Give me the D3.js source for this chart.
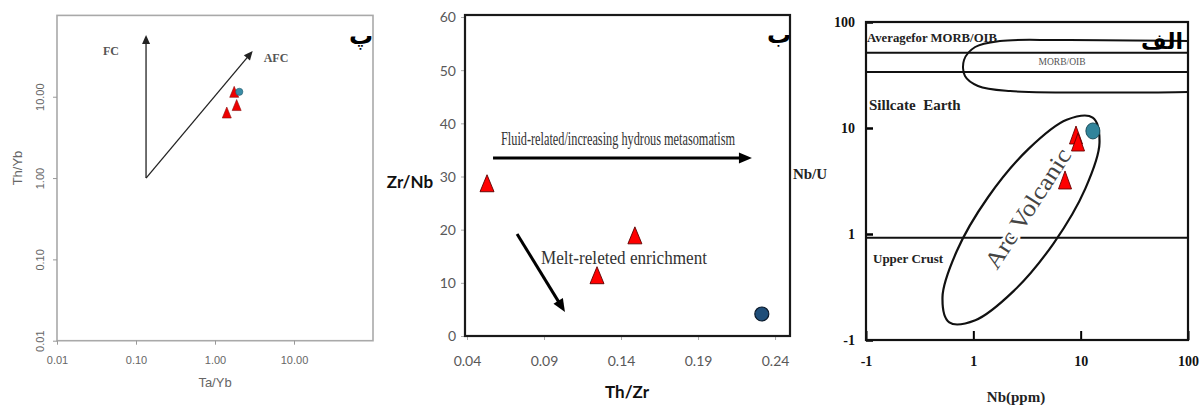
<!DOCTYPE html>
<html><head><meta charset="utf-8">
<script src="https://cdn.jsdelivr.net/npm/d3@7"></script>
<style>
html,body{margin:0;padding:0;background:#fff;}
svg{display:block;}
</style></head>
<body>
<svg id="chart" width="1202" height="405"></svg>
<script>
// ================= DATA =================
// Panel "پ" : Th/Yb vs Ta/Yb (log-log)
const p1TickValues = [0.01, 0.1, 1, 10];
const p1TickLabels = ["0.01", "0.10", "1.00", "10.00"];
const p1TriTaYb = [1.75, 1.88, 1.41];
const p1TriThYb = [10.9, 7.5, 6.07];
const p1DotTaYb = [2.03];
const p1DotThYb = [11.5];
const p1VectorNames = ["FC", "AFC"];
const p1VectorFromTaYb = [0.134, 0.134];
const p1VectorFromThYb = [1.0, 1.0];
const p1VectorToTaYb = [0.134, 3.0];
const p1VectorToThYb = [57.4, 36.5];

// Panel "ب" : Zr/Nb vs Th/Zr
const p2XTicks = [0.04, 0.09, 0.14, 0.19, 0.24];
const p2XLabels = ["0.04", "0.09", "0.14", "0.19", "0.24"];
const p2YTicks = [0, 10, 20, 30, 40, 50, 60];
const p2TriThZr = [0.053, 0.149, 0.1244];
const p2TriZrNb = [28.2, 18.4, 10.9];
const p2DotThZr = [0.2314];
const p2DotZrNb = [4.14];
const p2TrendNames = ["Fluid-related/increasing hydrous metasomatism", "Melt-releted enrichment"];
const p2TrendFromThZr = [0.0569, 0.0725];
const p2TrendFromZrNb = [33.5, 19.2];
const p2TrendToThZr = [0.225, 0.1036];
const p2TrendToZrNb = [33.5, 4.5];

// Panel "الف" : Nb/U vs Nb(ppm) (log-log)
const p3TickValues = [0.1, 1, 10, 100];
const p3TickLabels = ["-1", "1", "10", "100"];
const p3TriNb = [9.05, 9.45, 7.15];
const p3TriNbU = [8.05, 6.91, 3.03];
const p3DotNb = [13.0];
const p3DotNbU = [9.38];
const p3RefLinesNbU = [51.3, 33.8, 0.92];
const p3ArcNb  = [12.94, 14.98, 11.05, 5.62, 2.37, 1.043, 0.597, 0.516, 0.700, 1.375, 3.27, 7.41];
const p3ArcNbU = [12.53, 7.25, 2.68, 0.822, 0.289, 0.1537, 0.1466, 0.2533, 0.687, 2.234, 6.35, 11.95];
const p3MorbNb  = [100, 6.42, 1.77, 1.04, 0.819, 0.836, 1.105, 2.20, 100];
const p3MorbNbU = [66.2, 67.6, 66.2, 58.1, 43.8, 30.9, 24.9, 22.3, 21.9];

// ================= DRAWING =================
const svg = d3.select("#chart");
svg.append("rect").attr("width", 1202).attr("height", 405).attr("fill", "#fff");

const serif = "'Liberation Serif','Times New Roman',serif";
const sans = "'Liberation Sans',Arial,sans-serif";
const cal = "Lato,'Open Sans',sans-serif";
const arab = "'DejaVu Sans',sans-serif";

function triPath(w, h) { return `M0,${-2*h/3}L${w/2},${h/3}L${-w/2},${h/3}Z`; }
function arrow(g, x1, y1, x2, y2, width, headL, headW, color) {
  const dx = x2 - x1, dy = y2 - y1, len = Math.hypot(dx, dy), ux = dx/len, uy = dy/len;
  const bx = x2 - ux*headL, by = y2 - uy*headL;
  g.append("line").attr("x1", x1).attr("y1", y1).attr("x2", bx + ux).attr("y2", by + uy)
    .attr("stroke", color).attr("stroke-width", width);
  g.append("path").attr("d", `M${x2},${y2}L${bx - uy*headW/2},${by + ux*headW/2}L${bx + uy*headW/2},${by - ux*headW/2}Z`)
    .attr("fill", color);
}

// ---------- Panel 1 ----------
{
  const x = d3.scaleLog().domain([0.01, 100]).range([57, 373]);
  const y = d3.scaleLog().domain([0.01, 100]).range([340.7, 15.4]);
  const g = svg.append("g");
  g.append("rect").attr("x", 57).attr("y", 15.4).attr("width", 316).attr("height", 325.3)
    .attr("fill", "none").attr("stroke", "#a9a9a9").attr("stroke-width", 1.6);

  const ax = g.append("g").attr("transform", "translate(0,340.7)")
    .call(d3.axisBottom(x).tickValues(p1TickValues).tickFormat((d, i) => p1TickLabels[i]).tickSize(4));
  ax.select(".domain").remove();
  ax.selectAll("line").attr("stroke", "#999");
  ax.selectAll("text").attr("y", 19).attr("dy", "0.35em").attr("fill", "#666").style("font", `11px ${sans}`);

  const ay = g.append("g").attr("transform", "translate(57,0)")
    .call(d3.axisLeft(y).tickValues(p1TickValues).tickFormat((d, i) => p1TickLabels[i]).tickSize(4));
  ay.select(".domain").remove();
  ay.selectAll("line").attr("stroke", "#999");
  ay.selectAll("text").attr("x", 0).attr("dy", "0.35em").attr("text-anchor", "middle")
    .attr("transform", "translate(-17,0) rotate(-90)").attr("fill", "#666").style("font", `11px ${sans}`);

  g.append("text").attr("x", 215).attr("y", 382).attr("dy", "0.35em").attr("text-anchor", "middle")
    .attr("fill", "#666").style("font", `13px ${sans}`).text("Ta/Yb");
  g.append("text").attr("transform", "translate(17,168) rotate(-90)").attr("dy", "0.35em").attr("text-anchor", "middle")
    .attr("fill", "#666").style("font", `13px ${sans}`).text("Th/Yb");

  p1VectorNames.forEach((n, i) => {
    arrow(g, x(p1VectorFromTaYb[i]), y(p1VectorFromThYb[i]), x(p1VectorToTaYb[i]), y(p1VectorToThYb[i]), 1.3, 9, 8, "#222");
  });
  g.append("text").attr("x", 111).attr("y", 51).attr("dy", "0.35em").attr("text-anchor", "middle")
    .attr("fill", "#555").style("font", `bold 12px ${serif}`).text(p1VectorNames[0]);
  g.append("text").attr("x", 276).attr("y", 58).attr("dy", "0.35em").attr("text-anchor", "middle")
    .attr("fill", "#555").style("font", `bold 12px ${serif}`).text(p1VectorNames[1]);

  g.selectAll(".t1").data(p1TriTaYb).join("path")
    .attr("transform", (d, i) => `translate(${x(d)},${y(p1TriThYb[i])})`)
    .attr("d", triPath(9, 11)).attr("fill", "#ee0000").attr("stroke", "#8a1010").attr("stroke-width", 0.6);
  g.selectAll(".c1").data(p1DotTaYb).join("circle")
    .attr("cx", d => x(d)).attr("cy", (d, i) => y(p1DotThYb[i])).attr("r", 3.6)
    .attr("fill", "#3a8ca6").attr("stroke", "#255d6e").attr("stroke-width", 0.6);

  g.append("text").attr("x", 361).attr("y", 36).attr("dy", "0.35em").attr("text-anchor", "middle")
    .attr("fill", "#000").style("font", `bold 24px ${arab}`).text("پ");
}

// ---------- Panel 2 ----------
{
  const x = d3.scaleLinear().domain([0.0387, 0.2497]).range([465, 790]);
  const y = d3.scaleLinear().domain([0, 60]).range([336, 17]);
  const g = svg.append("g");

  const ax = g.append("g").attr("transform", "translate(0,336)")
    .call(d3.axisBottom(x).tickValues(p2XTicks).tickFormat((d, i) => p2XLabels[i]).tickSize(4));
  ax.select(".domain").remove();
  ax.selectAll("line").attr("stroke", "#aaa");
  ax.selectAll("text").attr("y", 25).attr("dy", "0.35em").attr("fill", "#595959").style("font", `14px ${cal}`);

  const ay = g.append("g").attr("transform", "translate(465,0)")
    .call(d3.axisLeft(y).tickValues(p2YTicks).tickSize(4));
  ay.select(".domain").remove();
  ay.selectAll("line").attr("stroke", "#aaa");
  ay.selectAll("text").attr("x", -9).attr("dy", "0.35em").attr("fill", "#595959").style("font", `14px ${cal}`);

  g.append("rect").attr("x", 465).attr("y", 15).attr("width", 325).attr("height", 321)
    .attr("fill", "none").attr("stroke", "#1a1a1a").attr("stroke-width", 2.2);

  g.append("text").attr("x", 410).attr("y", 182).attr("dy", "0.35em").attr("text-anchor", "middle")
    .attr("fill", "#111").style("font", `bold 17px ${cal}`).text("Zr/Nb");
  g.append("text").attr("x", 627).attr("y", 392).attr("dy", "0.35em").attr("text-anchor", "middle")
    .attr("fill", "#111").style("font", `bold 17px ${cal}`).text("Th/Zr");

  p2TrendNames.forEach((n, i) => {
    arrow(g, x(p2TrendFromThZr[i]), y(p2TrendFromZrNb[i]), x(p2TrendToThZr[i]), y(p2TrendToZrNb[i]), 3, 13, 11, "#000");
  });
  g.append("text").attr("x", 501).attr("y", 138).attr("dy", "0.35em")
    .attr("textLength", 234).attr("lengthAdjust", "spacingAndGlyphs")
    .attr("fill", "#333").style("font", `19px ${serif}`).text(p2TrendNames[0]);
  g.append("text").attr("x", 541).attr("y", 257).attr("dy", "0.35em")
    .attr("textLength", 166).attr("lengthAdjust", "spacingAndGlyphs")
    .attr("fill", "#333").style("font", `19px ${serif}`).text(p2TrendNames[1]);

  g.selectAll(".t2").data(p2TriThZr).join("path")
    .attr("transform", (d, i) => `translate(${x(d)},${y(p2TriZrNb[i])})`)
    .attr("d", triPath(14, 17)).attr("fill", "#ff0000").attr("stroke", "#5a0000").attr("stroke-width", 0.9);
  g.selectAll(".c2").data(p2DotThZr).join("circle")
    .attr("cx", d => x(d)).attr("cy", (d, i) => y(p2DotZrNb[i])).attr("r", 7)
    .attr("fill", "#1f4e79").attr("stroke", "#0b1a2b").attr("stroke-width", 1.2);

  g.append("text").attr("x", 779).attr("y", 35).attr("dy", "0.35em").attr("text-anchor", "middle")
    .attr("fill", "#000").style("font", `bold 24px ${arab}`).text("ب");
}

// ---------- Panel 3 ----------
{
  const x = d3.scaleLog().domain([0.1, 100]).range([866, 1188]);
  const y = d3.scaleLog().domain([0.1, 100]).range([340, 22]);
  const g = svg.append("g");
  svg.append("defs").append("clipPath").attr("id", "clip3")
    .append("rect").attr("x", 866).attr("y", 22).attr("width", 322).attr("height", 318);

  const ax = g.append("g").attr("transform", "translate(0,340)")
    .call(d3.axisBottom(x).tickValues(p3TickValues).tickFormat((d, i) => p3TickLabels[i]).tickSizeInner(-9).tickSizeOuter(0));
  ax.select(".domain").remove();
  ax.selectAll("line").attr("stroke", "#000").attr("stroke-width", 2);
  ax.selectAll("text").attr("y", 21).attr("dy", "0.35em").attr("fill", "#111").style("font", `bold 14px ${serif}`);

  const ay = g.append("g").attr("transform", "translate(866,0)")
    .call(d3.axisLeft(y).tickValues(p3TickValues).tickFormat((d, i) => p3TickLabels[i]).tickSizeInner(-7).tickSizeOuter(0));
  ay.select(".domain").remove();
  ay.selectAll("line").attr("stroke", "#000").attr("stroke-width", 2.5);
  ay.selectAll("text").attr("x", -11).attr("dy", "0.35em").attr("fill", "#111").style("font", `bold 14px ${serif}`);

  const inner = g.append("g").attr("clip-path", "url(#clip3)");
  inner.selectAll(".ref").data(p3RefLinesNbU).join("line")
    .attr("x1", 866).attr("x2", 1188).attr("y1", d => y(d)).attr("y2", d => y(d))
    .attr("stroke", "#111").attr("stroke-width", 2);

  const morbLine = d3.line().x(d => x(d[0])).y(d => y(d[1])).curve(d3.curveCatmullRom.alpha(0.5));
  inner.append("path").attr("d", morbLine(p3MorbNb.map((d, i) => [d, p3MorbNbU[i]])))
    .attr("fill", "none").attr("stroke", "#111").attr("stroke-width", 2);

  const arcLine = d3.line().x(d => x(d[0])).y(d => y(d[1])).curve(d3.curveCatmullRomClosed.alpha(0.5));
  inner.append("path").attr("d", arcLine(p3ArcNb.map((d, i) => [d, p3ArcNbU[i]])))
    .attr("fill", "none").attr("stroke", "#111").attr("stroke-width", 2.2);

  g.append("rect").attr("x", 866).attr("y", 22).attr("width", 322).attr("height", 318)
    .attr("fill", "none").attr("stroke", "#111").attr("stroke-width", 2.2);

  const lab = (t, xx, yy, font, fill, anchor, extra) => {
    const e = g.append("text").attr("x", xx).attr("y", yy).attr("dy", "0.35em")
      .attr("text-anchor", anchor || "start").attr("fill", fill).style("font", font).style("white-space", "pre").text(t);
    if (extra) extra(e);
    return e;
  };
  lab("Averagefor MORB/OIB", 867, 37, `bold 13px ${serif}`, "#222", "start", e => e.attr("textLength", 130).attr("lengthAdjust", "spacingAndGlyphs"));
  lab("MORB/OIB", 1062, 61, `11px ${serif}`, "#555", "middle", e => e.attr("textLength", 47).attr("lengthAdjust", "spacingAndGlyphs"));
  lab("Sillcate  Earth", 869, 105, `bold 15px ${serif}`, "#222");
  lab("Upper Crust", 873, 258, `bold 13px ${serif}`, "#222");

  g.append("text").attr("transform", `translate(${x(3.2)},${y(1.75)}) rotate(-57)`)
    .attr("text-anchor", "middle").attr("dy", "0.35em")
    .attr("textLength", 138).attr("lengthAdjust", "spacingAndGlyphs")
    .attr("fill", "#444").attr("stroke", "#fff").attr("stroke-width", 5).attr("paint-order", "stroke")
    .style("font", `24px ${serif}`).text("Arc Volcanic");

  g.selectAll(".t3").data(p3TriNb).join("path")
    .attr("transform", (d, i) => `translate(${x(d)},${y(p3TriNbU[i])})`)
    .attr("d", triPath(13, 18)).attr("fill", "#ff0000").attr("stroke", "#6a0000").attr("stroke-width", 0.9);
  g.selectAll(".c3").data(p3DotNb).join("ellipse")
    .attr("cx", d => x(d)).attr("cy", (d, i) => y(p3DotNbU[i])).attr("rx", 7).attr("ry", 8)
    .attr("fill", "#31849b").attr("stroke", "#1d4f5c").attr("stroke-width", 1);

  lab("Nb/U", 810, 174, `bold 15px ${serif}`, "#222", "middle");
  lab("Nb(ppm)", 1016, 397, `bold 15px ${serif}`, "#222", "middle");

  g.append("text").attr("x", 1162).attr("y", 41).attr("dy", "0.35em").attr("text-anchor", "middle")
    .attr("fill", "#000").style("font", `bold 22px ${arab}`).text("الف");
}
</script>
</body></html>
